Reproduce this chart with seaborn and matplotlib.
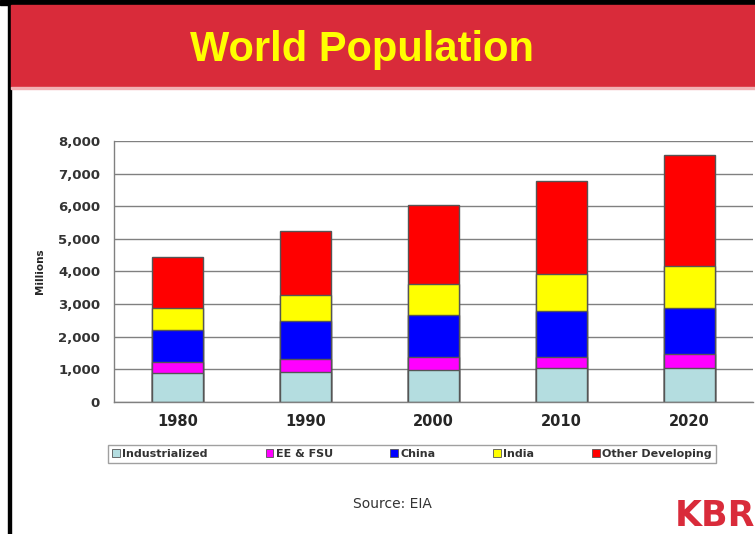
import numpy as np
import pandas as pd
import seaborn as sns
import matplotlib.pyplot as plt
from matplotlib.patches import Patch, Rectangle
from matplotlib.ticker import FuncFormatter, FixedLocator

# datos (millones)
years = ['1980', '1990', '2000', '2010', '2020']
industrialized = [870, 920, 980, 1040, 1040]
ee_fsu = [340, 400, 390, 340, 410]
china = [990, 1160, 1300, 1410, 1430]
india = [680, 780, 950, 1130, 1280]
other = [1570, 1990, 2410, 2860, 3400]

series_names = ['Industrialized', 'EE & FSU', 'China', 'India', 'Other Developing']
colores = ['#B4DDE0', '#FF00FF', '#0000FF', '#FFFF00', '#FF0000']

sns.set_style('white')
plt.rcParams['font.family'] = ['DejaVu Sans']

df = pd.DataFrame({'year': years, 'Industrialized': industrialized, 'EE & FSU': ee_fsu,
                   'China': china, 'India': india, 'Other Developing': other})
acum = df[series_names].cumsum(axis=1)

fig = plt.figure(figsize=(7.55, 5.34), dpi=100)

# marco y cabecera
fig.patches.append(Rectangle((0, 1 - 5 / 534), 1, 5 / 534, transform=fig.transFigure,
                             color='black', zorder=0))
fig.patches.append(Rectangle((8 / 755, 0), 3 / 755, 1, transform=fig.transFigure,
                             color='black', zorder=0))
fig.patches.append(Rectangle((11 / 755, 1 - 87 / 534), 744 / 755, 82 / 534,
                             transform=fig.transFigure, color='#D92B3A', zorder=0))
fig.patches.append(Rectangle((11 / 755, 1 - 89 / 534), 744 / 755, 2 / 534,
                             transform=fig.transFigure, color='#F2B0B4', zorder=0))
fig.text(362 / 755, 1 - 50 / 534, 'World Population', color='#FFFF00', fontsize=30,
         fontweight='bold', ha='center', va='center', family='Liberation Sans')

ax = fig.add_axes([114 / 755, 1 - 401.7 / 534, 639 / 755, 260.7 / 534])

# barras apiladas: de la suma total hacia abajo
for nombre, c in reversed(list(zip(series_names, colores))):
    sns.barplot(x=df['year'], y=acum[nombre], color=c, saturation=1, width=0.4,
                edgecolor='#555555', linewidth=1, ax=ax)

ax.set_ylim(0, 8000)
ax.set_yticks(np.arange(0, 8001, 1000))
ax.yaxis.set_major_formatter(FuncFormatter(lambda v, p: f'{int(v):,}'))
ax.grid(axis='y', color='#808080', linewidth=1)
ax.set_axisbelow(True)
for s in ['top', 'right']:
    ax.spines[s].set_visible(False)
for s in ['left', 'bottom']:
    ax.spines[s].set_color('#808080')
    ax.spines[s].set_linewidth(1)

ax.set_xlim(-0.5, 4.5)
ax.xaxis.set_minor_locator(FixedLocator(np.arange(-0.5, 5, 1)))
ax.tick_params(axis='x', which='major', length=0, pad=9, labelsize=10.5)
ax.tick_params(axis='x', which='minor', length=4, color='#808080', direction='out')
ax.tick_params(axis='y', length=4, color='#808080', direction='out', labelsize=9.5,
               labelcolor='#333333', pad=6)
for lab in ax.get_xticklabels():
    lab.set_fontweight('bold')
for lab in ax.get_yticklabels():
    lab.set_fontweight('bold')

ax.set_xlabel('')
ax.set_ylabel('Millions', fontsize=7.5, fontweight='bold', labelpad=9)

handles = [Patch(facecolor=c, edgecolor='#555555', linewidth=0.6) for c in colores]
leg = fig.legend(handles, series_names, loc='center', bbox_to_anchor=(412 / 755, 1 - 454 / 534),
                 ncol=5, handlelength=0.7, handleheight=0.7, handletextpad=0.2,
                 columnspacing=5.2, borderpad=0.35, fancybox=False, edgecolor='#888888',
                 prop={'size': 8, 'weight': 'bold'})
leg.get_frame().set_linewidth(1)
for t in leg.get_texts():
    t.set_color('#333333')

fig.text(392 / 755, 1 - 504 / 534, 'Source: EIA', fontsize=10, color='#333333',
         ha='center', va='center')
fig.text(675 / 755, 1 - 516 / 534, 'KBR', fontsize=25, color='#D92B3A', fontweight='bold',
         ha='left', va='center')

fig.savefig('out.png', dpi=100)
